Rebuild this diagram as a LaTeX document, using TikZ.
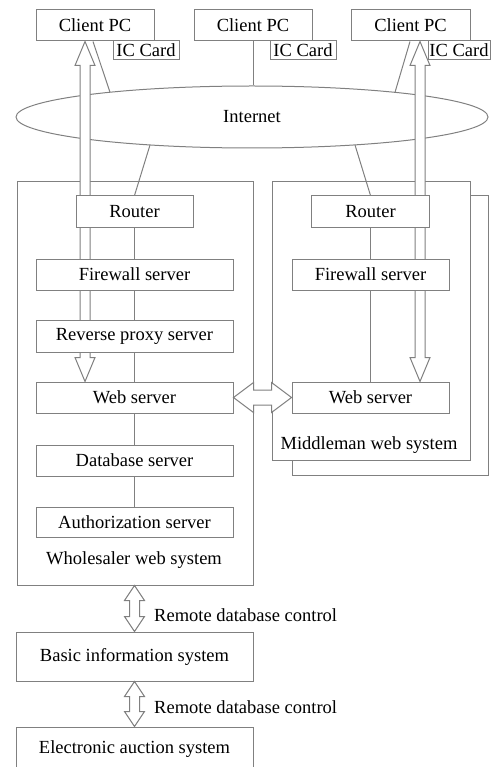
\documentclass[tikz,border=0pt]{standalone}
\usepackage{fontspec}
\setmainfont{Liberation Serif}
\usepackage{tikz}
\usetikzlibrary{shapes.geometric,calc,positioning}

\definecolor{linegray}{gray}{0.5}
\newcommand{\diafont}{\fontsize{18.5pt}{22pt}\selectfont}
% hollow two-headed arrow, top point, bottom point, head length
\newcommand{\vdarrow}[3]{%
  \draw[hollow] (#1) -- ++(10,#3) -- ++(-5,0) -- ($(#2)+(5,-#3)$) -- ++(5,0)
    -- (#2) -- ++(-10,-#3) -- ++(5,0) -- ($(#1)+(-5,#3)$) -- ++(-5,0) -- cycle;}

\pgfdeclarelayer{frames}
\pgfdeclarelayer{arrows}
\pgfsetlayers{frames,arrows,main}

\begin{document}
\begin{tikzpicture}[
    x=1pt, y=-1pt,
    box/.style={
        draw=linegray,
        line width=1pt,
        fill=white,
        minimum height=31,
        inner sep=1pt,
        font=\diafont
    },
    card/.style={
        box,
        minimum height=19,
        minimum width=66
    },
    sysbox/.style={
        draw=linegray,
        line width=1pt,
        fill=white
    },
    link/.style={
        draw=linegray,
        line width=1pt
    },
    hollow/.style={
        draw=linegray,
        line width=1pt,
        fill=white
    },
    label/.style={
        font=\diafont,
        inner sep=0pt
    }
]
\clip (0,0) rectangle (496,767);

% System frames and Internet
\begin{pgfonlayer}{frames}
\node[sysbox, minimum width=236, minimum height=403] (whole) at (135,383.5) {};
\node[sysbox, minimum width=196, minimum height=279] (midback) at (390,335.5) {};
\node[sysbox, minimum width=198, minimum height=278] (mid) at (371,321) {};
\node[ellipse, draw=linegray, line width=1pt, fill=white, minimum width=472,
    minimum height=62, inner sep=0pt, font=\diafont] (net) at (252,117) {Internet};
\end{pgfonlayer}

% Clients
\node[box, minimum width=118] (pc1) at (95,25.5) {Client PC};
\node[box, minimum width=118] (pc2) at (253,25.5) {Client PC};
\node[box, minimum width=119] (pc3) at (410.5,25.5) {Client PC};
\node[card] (ic1) at (146,50.5) {IC Card};
\node[card] (ic2) at (303,50.5) {IC Card};
\node[card, minimum width=62] (ic3) at (459,50.5) {IC Card};

% Wholesaler web system
\node[box, minimum width=117] (rt1) at (134.5,211.5) {Router};
\node[box, minimum width=197] (fw1) at (134.5,274.5) {Firewall server};
\node[box, minimum width=197, minimum height=32] (rp1) at (134.5,336) {Reverse proxy server};
\node[box, minimum width=197] (web1) at (134.5,397.5) {Web server};
\node[box, minimum width=197] (db1) at (134.5,460.5) {Database server};
\node[box, minimum width=197, minimum height=30] (au1) at (134.5,522) {Authorization server};
\node[label] (wlab) at (134,560) {Wholesaler web system};

% Middleman web system
\node[box, minimum width=118] (rt2) at (370.5,211.5) {Router};
\node[box, minimum width=157] (fw2) at (370.5,274.5) {Firewall server};
\node[box, minimum width=157] (web2) at (370.5,397.5) {Web server};
\node[label] (mlab) at (369,445) {Middleman web system};

% Back-end systems
\node[box, minimum width=237, minimum height=49] (basic) at (134.5,656.5) {Basic information system};
\node[box, minimum width=237, minimum height=44] (auct) at (134.5,749) {Electronic auction system};

% Links
\coordinate (e1) at (110,92.2);
\coordinate (e3) at (395,92.3);
\coordinate (e4) at (150,145);
\coordinate (e5) at (355,145);
\draw[link] ([xshift=-2pt]pc1.south) -- (e1);
\draw[link] (pc2.south) -- (pc2.south |- net.north);
\draw[link] ([xshift=-0.5pt]pc3.south) -- (e3);
\draw[link] (e4) -- (rt1.north);
\draw[link] (e5) -- (rt2.north);
\draw[link] (rt1) -- (fw1) (fw1) -- (rp1) (rp1) -- (web1) (web1) -- (db1) (db1) -- (au1);
\draw[link] (rt2) -- (fw2) (fw2) -- (web2);

% Hollow arrows
\coordinate (a1) at ([xshift=-10pt]pc1.south);
\coordinate (a2) at (a1 |- web1.north);
\coordinate (a3) at ([xshift=9.5pt]pc3.south);
\coordinate (a4) at (a3 |- web2.north);
\coordinate (a5) at (basic.north |- whole.south);
\begin{pgfonlayer}{arrows}
\vdarrow{a1}{a2}{24}
\vdarrow{a3}{a4}{24}
\end{pgfonlayer}
\vdarrow{a5}{basic.north}{15}
\vdarrow{basic.south}{auct.north}{15}
\draw[hollow] (web1.east) -- ++(20,-15) -- ++(0,7.5) -- ($(web2.west)+(-20,-7.5)$)
    -- ++(0,-7.5) -- (web2.west) -- ++(-20,15) -- ++(0,-7.5)
    -- ($(web1.east)+(20,7.5)$) -- ++(0,7.5) -- cycle;

% Arrow labels
\node[label, anchor=west] (rdc1) at (154,615) {Remote database control};
\node[label, anchor=west] (rdc2) at (154,707) {Remote database control};

\end{tikzpicture}
\end{document}
